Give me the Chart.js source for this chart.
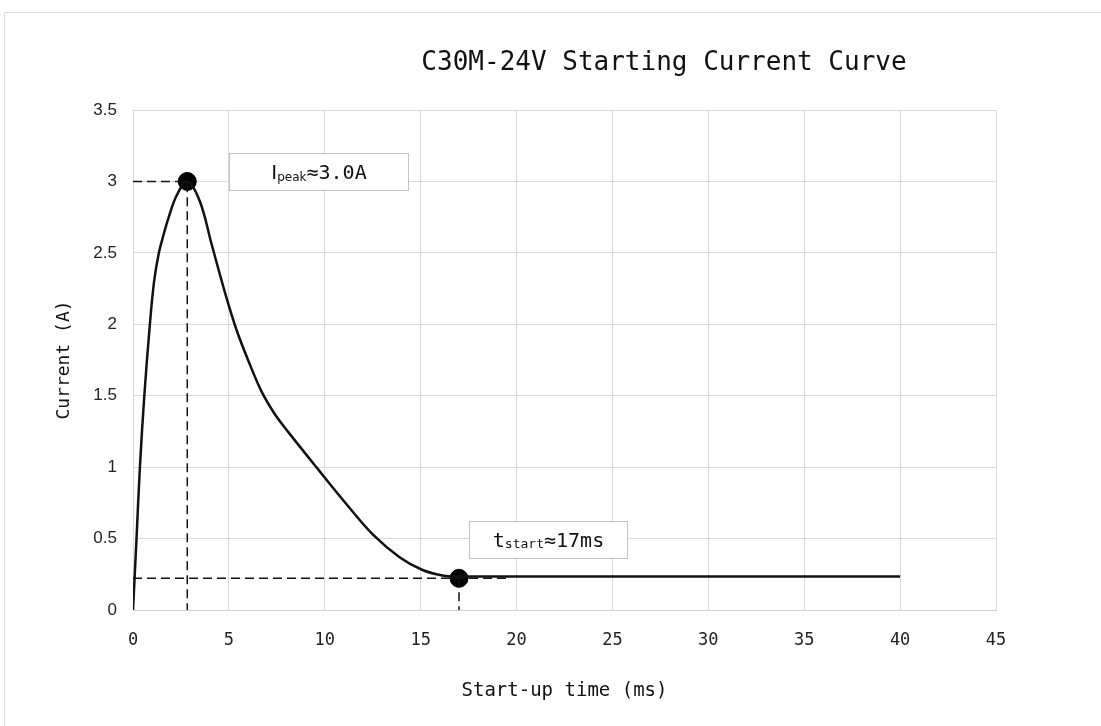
<!DOCTYPE html>
<html lang="en">
<head>
<meta charset="UTF-8">
<title>C30M-24V Starting Current Curve</title>
<script src="https://cdn.jsdelivr.net/npm/chart.js@4.4.0/dist/chart.umd.min.js"></script>
<style>
  html, body { margin: 0; padding: 0; background: #fff; }
  #wrap { position: relative; width: 1101px; height: 726px; overflow: hidden; }
  #frame {
    position: absolute; left: 4px; top: 12px; width: 1110px; height: 730px;
    border-left: 1px solid #dcdcdc; border-top: 1px solid #dcdcdc; pointer-events: none;
  }
</style>
</head>
<body>
<div id="wrap">
  <canvas id="curve" width="1101" height="726"></canvas>
  <div id="frame"></div>
</div>
<script>
// data
const chartTitle = 'C30M-24V Starting Current Curve';
const xTitle = 'Start-up time (ms)';
const yTitle = 'Current (A)';

const timeMs   = [0, 0.18, 0.36, 0.59, 0.88, 1.1, 1.35, 1.6, 1.84, 2.27, 2.83, 3.49, 4.1, 4.8, 5.4, 6.0, 6.7, 7.4, 8.1, 9.56, 11.2, 12.5, 13.9, 15.1, 16.2, 17, 20, 30, 40];
const currentA = [0, 0.49, 1.0, 1.5, 2.0, 2.3, 2.5, 2.63, 2.74, 2.9, 3.0, 2.86, 2.56, 2.22, 1.96, 1.75, 1.53, 1.37, 1.245, 1.0, 0.73, 0.53, 0.37, 0.28, 0.24, 0.235, 0.235, 0.235, 0.235];

const peakPoint  = { x: 2.83, y: 3.0 };
const startPoint = { x: 17, y: 0.222 };
const startDashEnd = 19.5;

const xMin = 0, xMax = 45, xStep = 5;
const yMin = 0, yMax = 3.5, yStep = 0.5;

const monoFont = '"DejaVu Sans Mono", "Liberation Mono", monospace';
const sansFont = '"DejaVu Sans", "Liberation Sans", sans-serif';

// annotation boxes: anchor in data units, text parts [text, size, dy, family]
const notes = [
  { x: 5.0, y: 3.2, w: 179, h: 37, parts: [['I', 20, 0, sansFont], ['peak', 12, 2, sansFont], ['\u22483.0A', 20, 0, monoFont]] },
  { x: 17.5, y: 0.62, w: 158, h: 37, parts: [['t', 20, 0, monoFont], ['start', 13, 1, monoFont], ['\u224817ms', 20, 0, monoFont]] }
];

const curvePoints = timeMs.map((t, i) => ({ x: t, y: currentA[i] }));

const extras = {
  id: 'extras',
  afterDatasetsDraw(chart) {
    const ctx = chart.ctx;
    const xs = chart.scales.x, ys = chart.scales.y;
    ctx.save();
    // title
    ctx.fillStyle = '#111';
    ctx.font = '26px ' + monoFont;
    ctx.textAlign = 'center';
    ctx.textBaseline = 'middle';
    ctx.fillText(chartTitle, 664, 63);

    // note boxes
    notes.forEach(n => {
      const left = Math.round(xs.getPixelForValue(n.x)) + 0.5;
      const top = Math.round(ys.getPixelForValue(n.y)) + 0.5;
      ctx.fillStyle = '#fff';
      ctx.fillRect(left, top, n.w, n.h);
      ctx.strokeStyle = '#c4c4c4';
      ctx.lineWidth = 1;
      ctx.strokeRect(left, top, n.w, n.h);
      let total = 0;
      n.parts.forEach(p => { ctx.font = p[1] + 'px ' + p[3]; total += ctx.measureText(p[0]).width; });
      let cx = left + (n.w - total) / 2;
      const base = top + n.h / 2 + 7;
      ctx.textAlign = 'left';
      ctx.textBaseline = 'alphabetic';
      ctx.fillStyle = '#111';
      n.parts.forEach(p => {
        ctx.font = p[1] + 'px ' + p[3];
        ctx.fillText(p[0], cx, base + p[2]);
        cx += ctx.measureText(p[0]).width;
      });
    });
    ctx.restore();
  }
};

const dashStyle = { borderColor: '#111', borderWidth: 1.5, borderDash: [9, 5], pointRadius: 0, showLine: true, fill: false, tension: 0 };

new Chart(document.getElementById('curve'), {
  type: 'scatter',
  data: {
    datasets: [
      Object.assign({ data: [{ x: 0, y: peakPoint.y }, peakPoint, { x: peakPoint.x, y: yMin }] }, dashStyle),
      Object.assign({ data: [{ x: 0, y: startPoint.y }, { x: startDashEnd, y: startPoint.y }] }, dashStyle),
      Object.assign({ data: [startPoint, { x: startPoint.x, y: yMin }] }, dashStyle),
      {
        data: curvePoints,
        showLine: true,
        borderColor: '#111',
        borderWidth: 2.5,
        pointRadius: 0,
        tension: 0.35,
        fill: false
      },
      {
        data: [peakPoint, startPoint],
        showLine: false,
        pointRadius: 9,
        pointHoverRadius: 9,
        backgroundColor: '#000',
        borderColor: '#000'
      }
    ]
  },
  options: {
    responsive: false,
    animation: false,
    events: [],
    layout: { padding: { left: 0, top: 110, right: 105, bottom: 0 } },
    plugins: { legend: { display: false }, tooltip: { enabled: false }, title: { display: false } },
    scales: {
      x: {
        type: 'linear',
        min: xMin, max: xMax,
        afterFit(s) { s.height = 116; },
        ticks: { stepSize: xStep, color: '#222', font: { family: monoFont, size: 17 }, padding: 20, maxRotation: 0 },
        grid: { color: '#d9d9d9', lineWidth: 1, drawTicks: false },
        border: { color: '#cfcfcf' },
        title: { display: true, text: xTitle, color: '#111', font: { family: monoFont, size: 19 }, padding: { top: 0, bottom: 24 } }
      },
      y: {
        type: 'linear',
        min: yMin, max: yMax,
        afterFit(s) { s.width = 133; },
        ticks: {
          stepSize: yStep, color: '#222', padding: 16,
          font: { family: '"Liberation Sans", Arial, sans-serif', size: 17 },
          callback: v => String(v)
        },
        grid: { color: '#d9d9d9', lineWidth: 1, drawTicks: false },
        border: { color: '#d9d9d9' },
        title: { display: true, text: yTitle, color: '#111', font: { family: monoFont, size: 18 }, padding: { top: 54, bottom: 0 } }
      }
    }
  },
  plugins: [extras]
});
</script>
</body>
</html>
